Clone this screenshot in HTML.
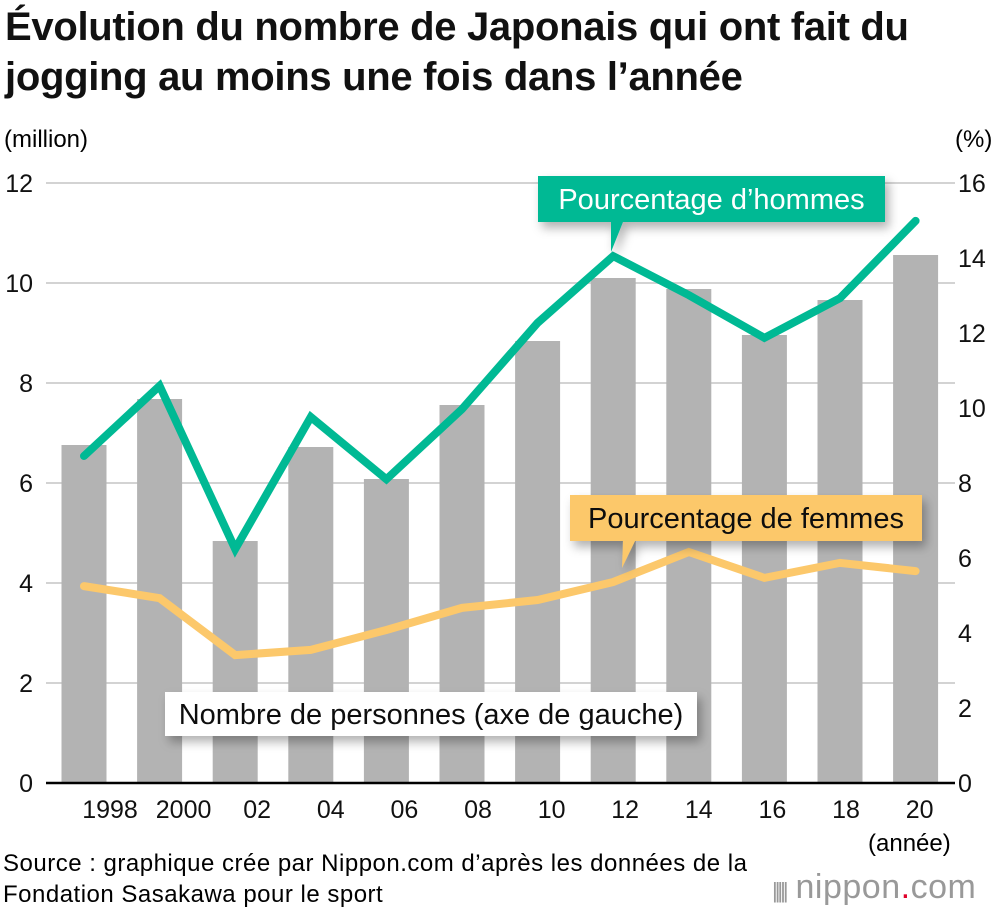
<!DOCTYPE html>
<html><head><meta charset="utf-8"><style>
body{margin:0;background:#fff;font-family:"Liberation Sans",Arial,sans-serif;}
#wrap{position:relative;width:1000px;height:916px;overflow:hidden;}
.t{position:absolute;white-space:nowrap;}
</style></head><body>
<div id="wrap">
<div class="t" style="left:5px;top:2px;font-size:40px;font-weight:bold;line-height:50px;letter-spacing:-0.3px;color:#111;">Évolution du nombre de Japonais qui ont fait du<br>jogging au moins une fois dans l’année</div>
<div class="t" style="left:4px;top:126px;font-size:24px;">(million)</div>
<div class="t" style="left:955px;top:126px;font-size:24px;">(%)</div>
<div class="t" style="left:868px;top:830px;font-size:24px;">(année)</div>
<div class="t" style="left:3px;top:848px;font-size:24px;line-height:31px;letter-spacing:0.5px;">Source : graphique crée par Nippon.com d’après les données de la<br>Fondation Sasakawa pour le sport</div>
<div class="t" style="left:772px;top:868px;font-size:34px;color:#999;letter-spacing:0.5px;"><span style="font-size:22px;letter-spacing:-3px;">|||||</span> nippon<span style="color:#e0002a">.</span>com</div>
<svg id="chart" width="1000" height="916" style="position:absolute;left:0;top:0"></svg>
</div>
<script>
const categories=["1998","2000","02","04","06","08","10","12","14","16","18","20"];
const people=[6.76,7.68,4.84,6.72,6.08,7.56,8.84,10.1,9.88,8.96,9.66,10.56];
const menPct=[8.72,10.59,6.24,9.76,8.1,9.97,12.27,14.05,13.01,11.87,12.93,14.99];
const womenPct=[5.25,4.93,3.41,3.55,4.08,4.67,4.88,5.36,6.16,5.47,5.87,5.65];
const leftTicks=[0,2,4,6,8,10,12];
const rightTicks=[0,2,4,6,8,10,12,14,16];
const NS="http://www.w3.org/2000/svg";
const svg=document.getElementById('chart');
const y0=783,yTop=183;
const yL=v=>y0-(v/12)*(y0-yTop);
const yR=v=>y0-(v/16)*(y0-yTop);
const xC=i=>84+75.6*i;
const xLab=i=>110+73.6*i;
function mk(tag,a){const e=document.createElementNS(NS,tag);for(const k in a)e.setAttribute(k,a[k]);svg.appendChild(e);return e;}
const defs=mk('defs',{});
defs.innerHTML='<filter id="sh" x="-10%" y="-30%" width="130%" height="190%"><feDropShadow dx="4" dy="6" stdDeviation="5" flood-color="#000" flood-opacity="0.3"/></filter>';
leftTicks.forEach(v=>{
  if(v>0){const g=mk('line',{x1:46,x2:955,y1:yL(v),y2:yL(v),stroke:'#d3d3d3','stroke-width':2});
  
  }
  const t=mk('text',{x:33,y:yL(v)+9,'text-anchor':'end','font-size':25,fill:'#111'});
  t.textContent=v;
  
  
});
rightTicks.forEach(v=>{
  const t=mk('text',{x:958,y:yR(v)+9,'font-size':25,fill:'#111'});
  t.textContent=v;
  
  
});
people.forEach((v,i)=>{
  const r=mk('rect',{x:xC(i)-22.5,y:yL(v),width:45,height:y0-yL(v),fill:'#b3b3b3'});
  
  
});
const ax=mk('line',{x1:46,x2:955,y1:y0,y2:y0,stroke:'#000','stroke-width':2.5});


categories.forEach((c,i)=>{
  const t=mk('text',{x:xLab(i),y:818,'text-anchor':'middle','font-size':25,fill:'#111'});
  t.textContent=c;
  
  
});
function line(arr,col,name){
  const p=mk('polyline',{points:arr.map((v,i)=>xC(i)+','+yR(v)).join(' '),fill:'none',stroke:col,'stroke-width':8,'stroke-linejoin':'miter','stroke-linecap':'round'});
  
  
}
line(womenPct,'#fcc86b','women-line');
line(menPct,'#00b994','men-line');
function callout(x,y,w,h,px,tip,fill,txtCol,txt,name){
  const g=mk('g',{filter:'url(#sh)'});
  
  
  let d='M'+x+','+y+'h'+w+'v'+h+'H'+(px+12);
  if(tip) d+='L'+tip[0]+','+tip[1]+'L'+px+','+(y+h);
  d+='H'+x+'Z';
  const p=document.createElementNS(NS,'path');p.setAttribute('d',d);p.setAttribute('fill',fill);g.appendChild(p);
  const t=document.createElementNS(NS,'text');t.setAttribute('x',x+w/2);t.setAttribute('y',y+h/2+10);t.setAttribute('text-anchor','middle');t.setAttribute('font-size',29);t.setAttribute('fill',txtCol);t.textContent=txt;g.appendChild(t);
}
callout(538,176,347,46,611,[611,252],'#00b994','#fff','Pourcentage d’hommes','men-callout');
callout(570,495,352,46,623,[622,568],'#fcc86b','#111','Pourcentage de femmes','women-callout');
callout(165,692,532,44,300,null,'#fff','#111','Nombre de personnes (axe de gauche)','bars-callout');
</script>
</body></html>
